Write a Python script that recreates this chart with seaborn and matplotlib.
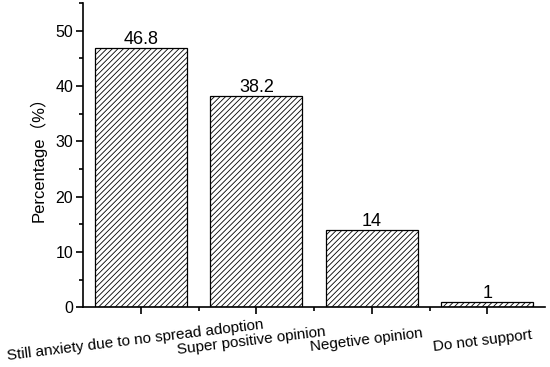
import matplotlib
matplotlib.use("Agg")
import matplotlib.pyplot as plt
import matplotlib.transforms as mtransforms
import seaborn as sns
from matplotlib.ticker import MultipleLocator, FixedLocator

# --- data ---
categories = ["Still anxiety due to no spread adoption", "Super positive opinion",
              "Negetive opinion", "Do not support"]
values = [46.8, 38.2, 14, 1]
value_labels = ["46.8", "38.2", "14", "1"]

sns.set_style("ticks")
plt.rcParams["font.family"] = ["Liberation Sans", "Noto Sans CJK SC", "DejaVu Sans"]
plt.rcParams["hatch.linewidth"] = 0.6
plt.rcParams["text.color"] = "black"
plt.rcParams["axes.labelcolor"] = "black"
plt.rcParams["xtick.color"] = "black"
plt.rcParams["ytick.color"] = "black"

fig = plt.figure(figsize=(5.5, 3.67), dpi=100)
ax = fig.add_axes([0.151, 0.163, 0.84, 0.829])

sns.barplot(x=categories, y=values, color="white", edgecolor="black",
            linewidth=0.9, hatch="//////", width=0.8, ax=ax)

# value labels on top of bars
ax.bar_label(ax.containers[0], labels=value_labels, padding=0, fontsize=13, color="black")

ax.set_xlim(-0.5, 3.5)
ax.set_ylim(0, 55)
ax.yaxis.set_major_locator(MultipleLocator(10))
ax.yaxis.set_minor_locator(MultipleLocator(5))
ax.xaxis.set_minor_locator(FixedLocator([0.5, 1.5, 2.5]))
ax.tick_params(axis="both", which="major", length=5, width=1.2, color="black")
ax.tick_params(axis="both", which="minor", length=3, width=1.2, color="black")
ax.tick_params(axis="y", labelsize=11.5, pad=2)
ax.tick_params(axis="x", labelsize=11, pad=14)

shift = mtransforms.ScaledTranslation(-6 / 100, 0, fig.dpi_scale_trans)
for lbl in ax.get_xticklabels():
    lbl.set_rotation(7)
    lbl.set_ha("center")
    lbl.set_va("top")
    lbl.set_rotation_mode("anchor")
    lbl.set_transform(lbl.get_transform() + shift)

ax.set_ylabel("Percentage（%）", fontsize=12)
ax.yaxis.set_label_coords(-0.078, 0.5)
ax.set_xlabel("")

sns.despine(ax=ax)
for s in ["left", "bottom"]:
    ax.spines[s].set_linewidth(1.2)
    ax.spines[s].set_color("black")

fig.savefig("out.png", dpi=100)
